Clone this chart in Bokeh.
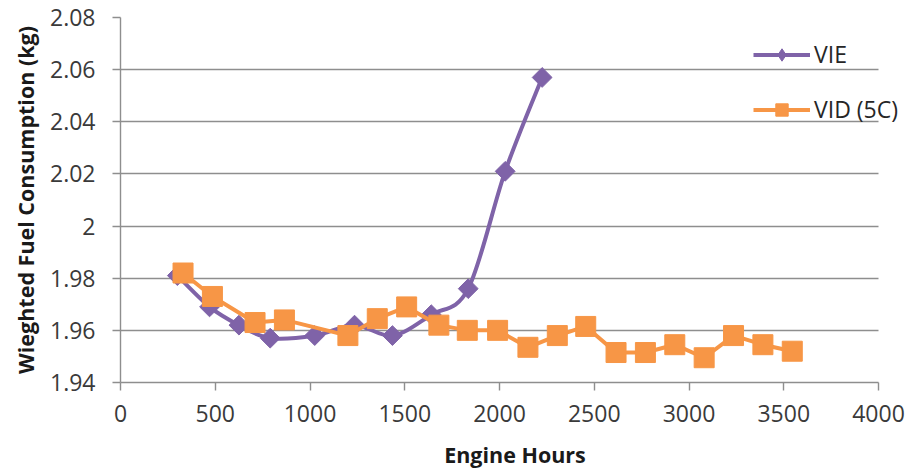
import numpy as np
from bokeh.plotting import figure
from bokeh.models import (ColumnDataSource, FixedTicker, NumeralTickFormatter,
                          Legend, LegendItem, Range1d)
from bokeh.embed import file_html
from bokeh.resources import INLINE

# ---- data ----
series_names = ["VIE", "VID (5C)"]
vie_hours = [300, 470, 625, 790, 1025, 1235, 1435, 1640, 1835, 2030, 2225]
vie_fuel = [1.981, 1.969, 1.962, 1.957, 1.958, 1.962, 1.958, 1.966, 1.976, 2.021, 2.057]
vid_hours = [330, 485, 710, 865, 1200, 1355, 1510, 1680, 1830, 1990,
             2150, 2305, 2455, 2615, 2770, 2925, 3080, 3235, 3390, 3545]
vid_fuel = [1.982, 1.973, 1.963, 1.964, 1.958, 1.9645, 1.969, 1.962, 1.960, 1.960,
            1.9535, 1.958, 1.9615, 1.9515, 1.9515, 1.9545, 1.9495, 1.958, 1.9545, 1.952]
x_ticks = [0, 500, 1000, 1500, 2000, 2500, 3000, 3500, 4000]
y_ticks = [1.94, 1.96, 1.98, 2.00, 2.02, 2.04, 2.06, 2.08]
x_title = "Engine Hours"
y_title = "Wieghted Fuel Consumption (kg)"

PURPLE = "#7f63a8"
ORANGE = "#f79646"
GRID = "#8e8e8e"
FONT = "Open Sans"

# layout: the axis area is 758 px wide; the frame runs on to the right edge
# so that the legend (which sticks out past the axes) is not clipped.
W, H = 909, 469
LEFT, TOP, BOTTOM = 120, 17, 87
AXIS_W, FRAME_H = 758, 365
FRAME_W = W - LEFT
x_end = x_ticks[-1] * FRAME_W / AXIS_W

p = figure(width=W, height=H, frame_width=FRAME_W, frame_height=FRAME_H,
           x_range=Range1d(x_ticks[0], x_end),
           y_range=Range1d(y_ticks[0], y_ticks[-1]),
           output_backend="svg", toolbar_location=None,
           min_border_left=LEFT, min_border_right=0,
           min_border_top=TOP, min_border_bottom=BOTTOM)
p.outline_line_color = None
p.background_fill_color = "white"
p.border_fill_color = "white"

# grid
p.xgrid.grid_line_color = None
ygrid = p.ygrid[0]
if "cross_bounds" in ygrid.properties():
    ygrid.ticker = FixedTicker(ticks=y_ticks)
    ygrid.grid_line_color = GRID
    ygrid.grid_line_width = 1.4
    ygrid.cross_bounds = (x_ticks[0], x_ticks[-1])
else:
    ygrid.grid_line_color = None
    gl = p.segment(x0=[x_ticks[0]] * len(y_ticks), x1=[x_ticks[-1]] * len(y_ticks),
                   y0=y_ticks, y1=y_ticks, line_color=GRID, line_width=1.4)
    gl.level = "underlay"

# axes
for ax in (p.xaxis[0], p.yaxis[0]):
    ax.axis_line_color = GRID
    ax.axis_line_width = 1.4
    ax.major_tick_line_color = GRID
    ax.major_tick_line_width = 1.4
    ax.major_tick_out = 8
    ax.major_tick_in = 0
    ax.minor_tick_line_color = None
    ax.major_label_text_font = FONT
    ax.major_label_text_font_size = "23px"
    ax.major_label_text_color = "#3a3a3a"
    ax.axis_label_text_font = FONT
    ax.axis_label_text_font_size = "21.5px"
    ax.axis_label_text_font_style = "bold"
    ax.axis_label_text_color = "#1a1a1a"

p.xaxis.ticker = FixedTicker(ticks=x_ticks)
p.xaxis.bounds = (x_ticks[0], x_ticks[-1])
p.yaxis.ticker = FixedTicker(ticks=y_ticks)
p.yaxis.formatter = NumeralTickFormatter(format="0.[00]")
p.xaxis.axis_label = x_title
p.yaxis.axis_label = y_title
p.xaxis.major_label_standoff = 14
p.yaxis.major_label_standoff = 17
p.xaxis.axis_label_standoff = 15
p.yaxis.axis_label_standoff = 7

# ---- VIE: smoothed line (bezier segments through the points) ----
n = len(vie_hours)
bx0, by0, bx1, by1, cx0, cy0, cx1, cy1 = [], [], [], [], [], [], [], []
for i in range(n - 1):
    im = max(i - 1, 0)
    i2 = min(i + 2, n - 1)
    bx0.append(vie_hours[i]); by0.append(vie_fuel[i])
    bx1.append(vie_hours[i + 1]); by1.append(vie_fuel[i + 1])
    cx0.append(vie_hours[i] + (vie_hours[i + 1] - vie_hours[im]) / 6)
    cy0.append(vie_fuel[i] + (vie_fuel[i + 1] - vie_fuel[im]) / 6)
    cx1.append(vie_hours[i + 1] - (vie_hours[i2] - vie_hours[i]) / 6)
    cy1.append(vie_fuel[i + 1] - (vie_fuel[i2] - vie_fuel[i]) / 6)
bez_src = ColumnDataSource(dict(x0=bx0, y0=by0, x1=bx1, y1=by1,
                                cx0=cx0, cy0=cy0, cx1=cx1, cy1=cy1))
p.bezier(x0="x0", y0="y0", x1="x1", y1="y1", cx0="cx0", cy0="cy0",
         cx1="cx1", cy1="cy1", source=bez_src, line_color=PURPLE,
         line_width=4, line_cap="round", line_join="round")
p.scatter(vie_hours, vie_fuel, marker="square", angle=np.pi / 4, size=14,
          fill_color=PURPLE, line_color=PURPLE)

# ---- VID (5C): straight line ----
p.line(vid_hours, vid_fuel, line_color=ORANGE, line_width=4, line_join="round")
p.scatter(vid_hours, vid_fuel, marker="square", size=20,
          fill_color=ORANGE, line_color=ORANGE)

# ---- legend (proxy renderers) ----
nan_src = dict(x=[np.nan], y=[np.nan])
l1 = p.line(x="x", y="y", source=ColumnDataSource(nan_src), line_color=PURPLE, line_width=4)
m1 = p.scatter(x="x", y="y", source=ColumnDataSource(nan_src), marker="diamond",
               fill_color=PURPLE, line_color=PURPLE)
l2 = p.line(x="x", y="y", source=ColumnDataSource(nan_src), line_color=ORANGE, line_width=4)
m2 = p.scatter(x="x", y="y", source=ColumnDataSource(nan_src), marker="square",
               fill_color=ORANGE, line_color=ORANGE)

legend = Legend(items=[LegendItem(label=series_names[0], renderers=[l1, m1]),
                       LegendItem(label=series_names[1], renderers=[l2, m2])],
                location=(633, 257), orientation="vertical",
                padding=0, margin=0, spacing=23,
                glyph_width=57, glyph_height=31, label_height=31,
                label_standoff=4,
                label_text_font=FONT, label_text_font_size="23px",
                label_text_color="#262626",
                border_line_alpha=0, background_fill_alpha=0)
p.add_layout(legend, "center")

open("out.html", "w").write(file_html(p, INLINE))
